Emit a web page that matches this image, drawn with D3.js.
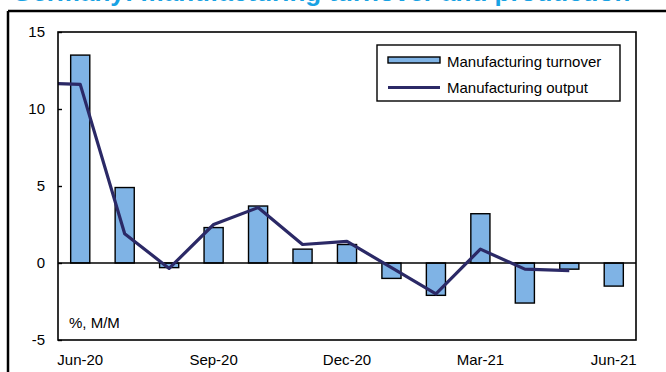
<!DOCTYPE html>
<html><head><meta charset="utf-8">
<script src="https://cdn.jsdelivr.net/npm/d3@7"></script>
<style>
html,body{margin:0;padding:0;background:#fff;}
svg{display:block;font-family:"Liberation Sans",Arial,sans-serif;}
</style></head>
<body>
<svg id="chart" width="666" height="372"></svg>
<script>
const months = ["Jun-20","Jul-20","Aug-20","Sep-20","Oct-20","Nov-20","Dec-20","Jan-21","Feb-21","Mar-21","Apr-21","May-21","Jun-21"];
const turnover = [13.5, 4.9, -0.3, 2.3, 3.7, 0.9, 1.2, -1.0, -2.1, 3.2, -2.6, -0.4, -1.5];
const output = [11.6, 1.9, -0.35, 2.5, 3.6, 1.2, 1.4, -0.3, -2.0, 0.9, -0.4, -0.5, null];
const outputPrev = 11.7; // May-20 value, drawn off the left edge
const xTickLabels = ["Jun-20","Sep-20","Dec-20","Mar-21","Jun-21"];
const yTicks = [-5, 0, 5, 10, 15];
const title = "Germany: manufacturing turnover and production";
const seriesNames = ["Manufacturing turnover","Manufacturing output"];

const svg = d3.select("#chart");
const L = 58, R = 636, T = 32, B = 340;

const x = d3.scaleBand().domain(months).range([L, R]).paddingInner(0.57).paddingOuter(0.285);
const y = d3.scaleLinear().domain([-5, 15]).range([B, T]);
const cx = m => x(m) + x.bandwidth() / 2;

// title (cut off at top, as in the source)
svg.append("text").attr("x", 12).attr("y", 1)
  .attr("font-size", 26).attr("font-weight", "bold").attr("fill", "#18A2E3")
  .text(title);

// outer frame lines
svg.append("line").attr("x1", 8).attr("x2", 666).attr("y1", 11).attr("y2", 11).attr("stroke", "#000").attr("stroke-width", 2.5);
svg.append("line").attr("x1", 8).attr("x2", 8).attr("y1", 11).attr("y2", 372).attr("stroke", "#000").attr("stroke-width", 2.5);

svg.append("defs").append("clipPath").attr("id", "clip")
  .append("rect").attr("x", L).attr("y", T).attr("width", R - L).attr("height", B - T);

// bars
svg.append("g").selectAll("rect").data(months).join("rect")
  .attr("x", d => x(d))
  .attr("width", x.bandwidth())
  .attr("y", (d, i) => y(Math.max(0, turnover[i])))
  .attr("height", (d, i) => Math.abs(y(turnover[i]) - y(0)))
  .attr("fill", "#7FB3E5").attr("stroke", "#000").attr("stroke-width", 1.4);

// zero line
svg.append("line").attr("x1", L).attr("x2", R).attr("y1", y(0)).attr("y2", y(0))
  .attr("stroke", "#000").attr("stroke-width", 1.4);

// line
const pts = [{x: cx(months[0]) - x.step(), v: outputPrev}]
  .concat(months.map((m, i) => ({x: cx(m), v: output[i]})).filter(p => p.v !== null));
svg.append("path").datum(pts)
  .attr("clip-path", "url(#clip)")
  .attr("d", d3.line().x(p => p.x).y(p => y(p.v)))
  .attr("fill", "none").attr("stroke", "#2B2966").attr("stroke-width", 3.2)
  .attr("stroke-linejoin", "round");

// plot frame
svg.append("rect").attr("x", L).attr("y", T).attr("width", R - L).attr("height", B - T)
  .attr("fill", "none").attr("stroke", "#000").attr("stroke-width", 1.6);

// y axis
const yAxis = d3.axisLeft(y).tickValues(yTicks).tickSize(-4).tickPadding(13).tickFormat(d => String(d));
const gy = svg.append("g").attr("transform", `translate(${L},0)`).call(yAxis);
gy.select(".domain").remove();
gy.selectAll("line").attr("stroke", "#000").attr("stroke-width", 1.4);
gy.selectAll("text").attr("font-size", 15).attr("fill", "#000").attr("font-family", "Liberation Sans, Arial, sans-serif");

// x axis labels
const xAxis = d3.axisBottom(x).tickValues(xTickLabels).tickSize(0).tickPadding(14);
const gx = svg.append("g").attr("transform", `translate(0,${B})`).call(xAxis);
gx.select(".domain").remove();
gx.selectAll("text").attr("font-size", 15).attr("fill", "#000").attr("font-family", "Liberation Sans, Arial, sans-serif");

// unit label
svg.append("text").attr("x", 69).attr("y", 328).attr("font-size", 15).attr("fill", "#000").text("%, M/M");

// legend
const lg = svg.append("g");
lg.append("rect").attr("x", 377).attr("y", 45).attr("width", 243).attr("height", 56)
  .attr("fill", "#fff").attr("stroke", "#000").attr("stroke-width", 1.4);
lg.append("rect").attr("x", 388).attr("y", 57).attr("width", 52).attr("height", 6)
  .attr("fill", "#7FB3E5").attr("stroke", "#000").attr("stroke-width", 1.4);
lg.append("line").attr("x1", 388).attr("x2", 440).attr("y1", 87.5).attr("y2", 87.5)
  .attr("stroke", "#2B2966").attr("stroke-width", 3.2);
lg.append("text").attr("x", 447).attr("y", 67).attr("font-size", 15).attr("fill", "#000").text(seriesNames[0]);
lg.append("text").attr("x", 447).attr("y", 93).attr("font-size", 15).attr("fill", "#000").text(seriesNames[1]);
</script>
</body></html>
